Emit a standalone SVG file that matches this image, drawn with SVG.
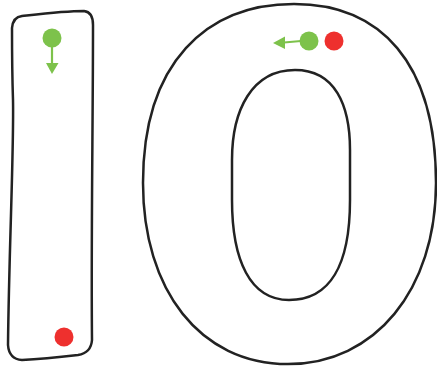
<svg xmlns="http://www.w3.org/2000/svg" width="437" height="368" viewBox="0 0 437 368">
<style>
.outline{fill:none;stroke:#222;stroke-width:2.5;stroke-linejoin:round;stroke-linecap:round}
.start{fill:#7dc24b}
.end{fill:#ee302e}
.arrow{stroke:#7dc24b;stroke-width:2.2;fill:none}
.head{fill:#7dc24b}
</style>
<rect width="437" height="368" fill="#fff"/>
<g id="digit-one">
<path class="outline" d="M 22,16 C 40,14 65,11 84,11 Q 93,12 93,25 C 93,120 91,240 92,340 Q 91,353 78,355 C 60,357 40,359 22,360 Q 9,359 8,345 C 9,250 14,150 13,100 C 12,70 12,45 12,28 Q 13,17 22,16 Z"/>
</g>
<g id="digit-zero">
<path class="outline" d="M 294,4 C 380,4 436,62 436,183 C 436,290 375,364 288,364 C 200,364 143,290 143,183 C 143,62 207,4 294,4 Z"/>
<path class="outline" d="M 295,70 C 335,70 350,105 350,150 L 350,200 C 350,265 330,300 289,300 C 250,300 232,260 232,200 L 232,160 C 232,110 252,70 295,70 Z"/>
</g>
<g id="markers">
<circle class="start" cx="52" cy="38" r="9.5"/>
<circle class="end" cx="64" cy="337" r="9.5"/>
<circle class="start" cx="309" cy="41" r="9.5"/>
<circle class="end" cx="334" cy="41" r="9.5"/>
</g>
<g id="connectors">
<line class="arrow" x1="301" y1="41" x2="284" y2="42.5"/>
<polygon class="head" points="273,43 285,36.5 285,49"/>
<line class="arrow" x1="52" y1="46" x2="52" y2="64"/>
<polygon class="head" points="46,63 58.5,63 52,74"/>
</g>
</svg>
